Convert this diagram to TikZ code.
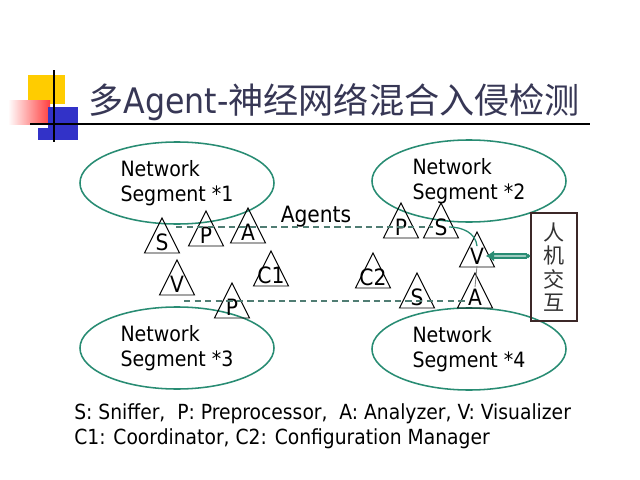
\documentclass[tikz,border=0pt]{standalone}
\usepackage{fontspec}
\setmainfont{DejaVu Sans Condensed}
\newfontfamily\cjk{Noto Sans CJK SC}
\usetikzlibrary{shapes.geometric,arrows.meta}
\definecolor{segline}{RGB}{40,140,115}
\definecolor{busline}{RGB}{80,125,115}
\definecolor{titleink}{RGB}{55,55,85}
\definecolor{boxedge}{RGB}{60,40,40}
\definecolor{logoyellow}{RGB}{255,204,0}
\definecolor{logoblue}{RGB}{50,50,200}

\tikzset{
    segment/.style={draw=segline, line width=1.1pt, ellipse, minimum width=4.85cm, minimum height=2.05cm,
        inner sep=0pt, align=left, font=\fontsize{15}{17.7}\selectfont},
    agentlbl/.style={inner sep=1pt, font=\fontsize{16}{18}\selectfont},
    dashlink/.style={busline, line width=0.9pt, dash pattern=on 4.5pt off 3pt},
    seglink/.style={segline, line width=0.9pt}
}

\begin{document}
\begin{tikzpicture}[x=0.025cm, y=-0.025cm]
        \newcommand{\agent}[4]{
            \draw [black, line width=0.7pt] (#2-17.5,#3) -- (#2,#3-35) -- (#2+17.5,#3) -- cycle;
            \coordinate (#1-e) at (#2+8.75,#3-17.5);
            \node[agentlbl] (#1) at (#2,#3-11) {#4};
        }
        \useasboundingbox (0,0) rectangle (640,480);
        \fill[white] (0,0) rectangle (640,480);

        % logo and title
        \fill[logoyellow] (28,75) rectangle (65,104);
        \shade[left color=white, right color=red!75] (8,100) rectangle (50,124);
        \fill[logoblue] (48,107) rectangle (78,140);
        \fill[logoblue] (38,128) rectangle (48,140);
        \draw [black, line width=0.8pt] (54,70) -- (54,142);
        \draw [black, line width=0.8pt] (30,124) -- (590,124);
        \node[anchor=base west, inner sep=0pt, text=titleink, font=\fontsize{25}{30}\selectfont] (title) at (88,113)
            {{\cjk 多}Agent-{\cjk 神经网络混合入侵检测}};

        % network segments
        \node[segment] (seg1) at (177,183) {Network\\Segment *1};
        \node[segment] (seg2) at (469,181) {Network\\Segment *2};
        \node[segment] (seg3) at (177,348) {Network\\Segment *3};
        \node[segment] (seg4) at (469,349) {Network\\Segment *4};

        % agents
        \agent{s1}{162}{253}{S}
        \agent{p1}{206}{246}{P}
        \agent{a1}{248}{243}{A}
        \agent{v1}{177}{295}{V}
        \agent{c1}{271}{286}{C1}
        \agent{p3}{232}{318}{P}
        \agent{p2}{401}{238}{P}
        \agent{s2}{441}{238}{S}
        \agent{v2}{477}{267}{V}
        \agent{c2}{373}{288}{C2}
        \agent{s3}{417}{308}{S}
        \agent{a2}{475}{308}{A}

        \node[font=\fontsize{16}{18}\selectfont, inner sep=1pt] (agents) at (316,217) {Agents};

        \coordinate (topbus) at (176,227);
        \coordinate (lowbus) at (184,301);
        \draw [dashlink] (topbus) -- (topbus -| s2.west);
        \draw [dashlink] (lowbus) -- (lowbus -| a2.west);
        \draw [seglink] (s2.east) to[out=0, in=95] (v2.north);
        \draw [gray, line width=0.6pt] (v2.south) -- (a2.north);

        % human-machine interaction
        \node[draw=boxedge, line width=1.3pt, minimum width=1.15cm, minimum height=2.7cm, inner sep=0pt,
            align=center, text=black!80, font=\cjk\fontsize{15}{16.7}\selectfont] (hci) at (554,267)
            {人\\机\\交\\互};
        \draw [segline, double=segline!45, double distance=1.6pt, line width=1pt,
            {Latex[length=6pt,width=8pt]}-{Circle[length=3pt]}] (v2-e |- v2.east) -- (hci.west |- v2.east);

        % legend
        \node[anchor=west, align=left, inner sep=0pt, font=\fontsize{14.8}{17.7}\selectfont] (legend) at (74,426)
            {S: Sniffer,\ \ P: Preprocessor,\ \ A: Analyzer, V: Visualizer\\C1: Coordinator, C2: Configuration Manager};
    \end{tikzpicture}
\end{document}
